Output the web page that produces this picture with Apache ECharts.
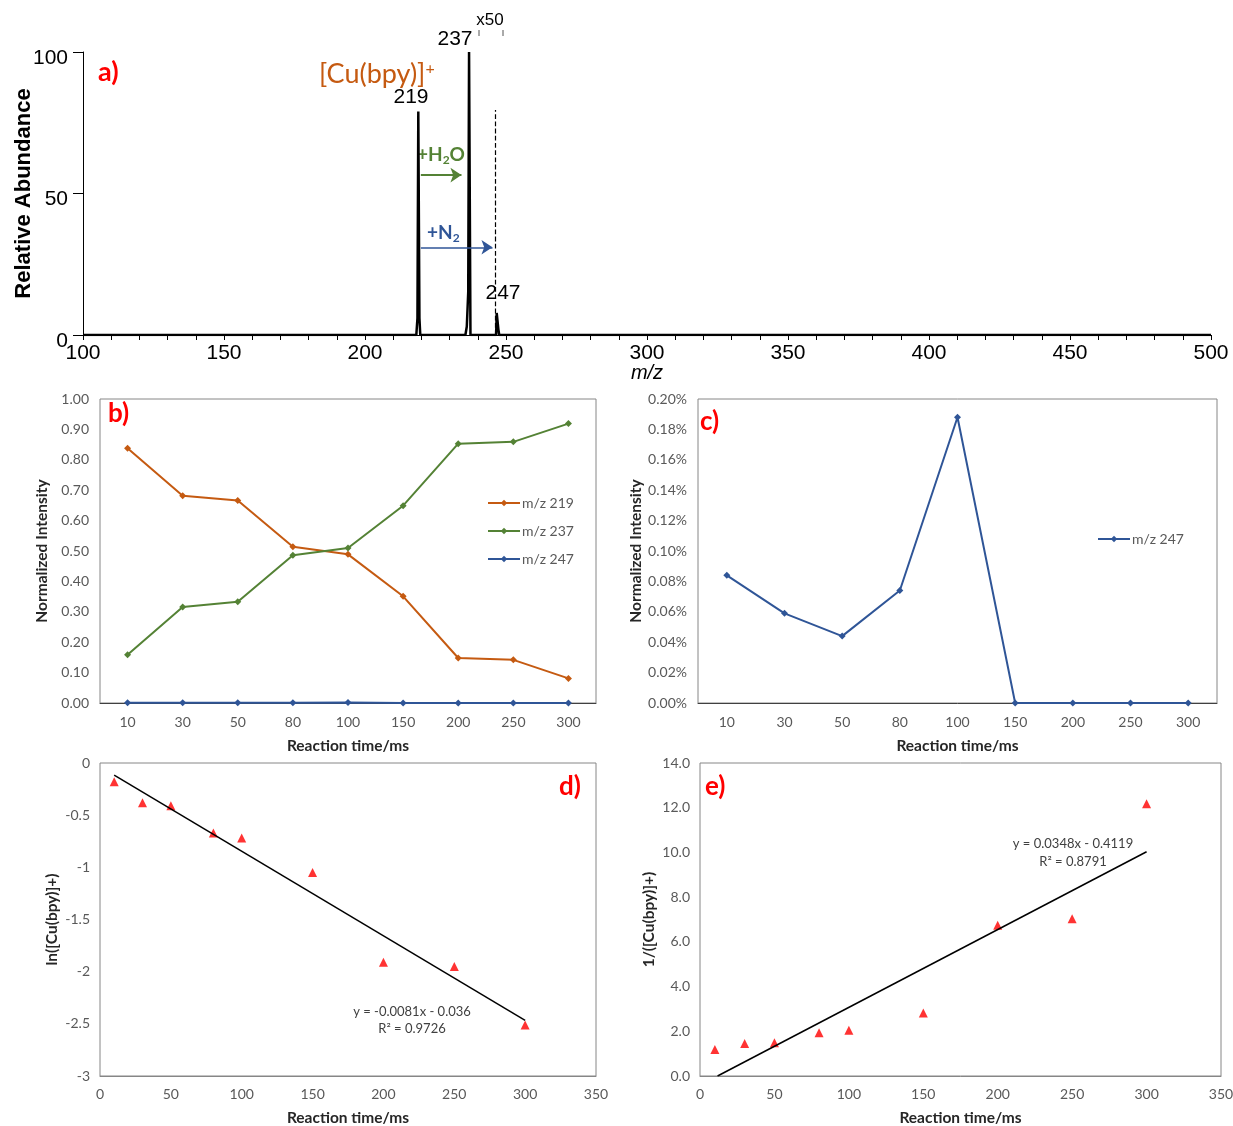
<!DOCTYPE html>
<html>
<head>
<meta charset="utf-8">
<title>[Cu(bpy)]+ reaction with H2O / N2</title>
<script src="https://cdn.jsdelivr.net/npm/echarts@6/dist/echarts.min.js"></script>
<style>
  html, body { margin: 0; padding: 0; background: #fff; }
  #chart { width: 1233px; height: 1126px; }
</style>
</head>
<body>
<div id="chart"></div>
<script>
// panel a - mass spectrum, [m/z, relative abundance]
var spectrum = [
  [100, 0], [218.2, 0], [218.6, 6], [218.9, 79], [219.3, 6], [219.6, 0],
  [235.6, 0], [236.1, 3], [236.6, 15], [236.9, 100], [237.4, 0],
  [246.5, 0], [246.7, 7.8], [247.3, 2], [247.6, 0], [500, 0]
];

// panels b/c - normalized intensities vs reaction time
var times = ['10', '30', '50', '80', '100', '150', '200', '250', '300'];
var timeValues = [10, 30, 50, 80, 100, 150, 200, 250, 300];
var mz219 = [0.838, 0.682, 0.666, 0.514, 0.489, 0.351, 0.148, 0.142, 0.081];
var mz237 = [0.159, 0.316, 0.333, 0.486, 0.510, 0.649, 0.853, 0.859, 0.919];
var mz247Pct = [0.084, 0.059, 0.044, 0.074, 0.188, 0, 0, 0, 0];

// panels d/e - kinetics plots
var lnCu = [-0.18, -0.38, -0.41, -0.67, -0.72, -1.05, -1.91, -1.95, -2.51];
var invCu = [1.18, 1.45, 1.49, 1.94, 2.05, 2.82, 6.74, 7.03, 12.18];
var trendD = [[10, -0.117], [300, -2.466]];
var trendE = [[11.8, 0], [300, 10.03]];

var ORANGE = '#C55A11', GREEN = '#548235', BLUE = '#2F5597', RED = '#FF0000';
var ARIAL = '"Liberation Sans", Arial, sans-serif';
var CAL = 'Lato, "Open Sans", sans-serif';
var FRAME = '#868686';

function pairs(xs, ys) {
  return xs.map(function (x, i) { return [x, ys[i]]; });
}

function smallLabel(fmt, margin) {
  return { color: '#595959', fontSize: 14, fontFamily: CAL, margin: margin, formatter: fmt };
}
function axisName(gap) {
  return { nameLocation: 'middle', nameGap: gap, nameMoveOverlap: false,
    nameTextStyle: { fontSize: 15.5, fontWeight: 'bold', fontFamily: CAL, color: '#262626' } };
}

var chart = echarts.init(document.getElementById('chart'), null, { renderer: 'canvas' });

var xAxes = [
  // a
  {
    gridIndex: 0, type: 'value', min: 100, max: 500, interval: 50,
    name: 'm/z', nameLocation: 'middle', nameGap: 28, nameMoveOverlap: false,
    nameTextStyle: { fontSize: 20, fontStyle: 'italic', fontFamily: ARIAL, color: '#000' },
    axisLine: { lineStyle: { color: '#000', width: 1 } },
    axisTick: { show: true, length: 5, lineStyle: { color: '#000' } },
    minorTick: { show: true, splitNumber: 5, length: 5, lineStyle: { color: '#000' } },
    axisLabel: { color: '#000', fontSize: 21, fontFamily: ARIAL, margin: 8 },
    splitLine: { show: false }
  },
  // b
  Object.assign({
    gridIndex: 1, type: 'category', data: times, name: 'Reaction time/ms',
    axisLine: { lineStyle: { color: '#404040' } },
    axisTick: { show: false },
    axisLabel: smallLabel(null, 12)
  }, axisName(35)),
  // c
  Object.assign({
    gridIndex: 2, type: 'category', data: times, name: 'Reaction time/ms',
    axisLine: { lineStyle: { color: '#404040' } },
    axisTick: { show: false },
    axisLabel: smallLabel(null, 12)
  }, axisName(35)),
  // d
  Object.assign({
    gridIndex: 3, type: 'value', min: 0, max: 350, interval: 50, name: 'Reaction time/ms',
    axisLine: { onZero: false, lineStyle: { color: FRAME } },
    axisTick: { show: false }, splitLine: { show: false },
    axisLabel: smallLabel(null, 11)
  }, axisName(34)),
  // e
  Object.assign({
    gridIndex: 4, type: 'value', min: 0, max: 350, interval: 50, name: 'Reaction time/ms',
    axisLine: { onZero: false, lineStyle: { color: FRAME } },
    axisTick: { show: false }, splitLine: { show: false },
    axisLabel: smallLabel(null, 11)
  }, axisName(34))
];

var yAxes = [
  // a
  {
    gridIndex: 0, type: 'value', min: 0, max: 100, interval: 50,
    name: 'Relative Abundance', nameLocation: 'middle', nameGap: 48, nameMoveOverlap: false,
    nameTextStyle: { fontSize: 22, fontWeight: 'bold', fontFamily: ARIAL, color: '#000' },
    axisLine: { show: true, lineStyle: { color: '#000' } },
    axisTick: { show: true, length: 10, lineStyle: { color: '#000' } },
    axisLabel: { color: '#000', fontSize: 21, fontFamily: ARIAL, margin: 15, verticalAlign: 'top', lineHeight: 12 },
    splitLine: { show: false }
  },
  // b
  Object.assign({
    gridIndex: 1, type: 'value', min: 0, max: 1, interval: 0.1, name: 'Normalized Intensity',
    axisLine: { show: false }, axisTick: { show: false }, splitLine: { show: false },
    axisLabel: smallLabel(function (v) { return v.toFixed(2); }, 11)
  }, axisName(50)),
  // c
  Object.assign({
    gridIndex: 2, type: 'value', min: 0, max: 0.2, interval: 0.02, name: 'Normalized Intensity',
    axisLine: { show: false }, axisTick: { show: false }, splitLine: { show: false },
    axisLabel: smallLabel(function (v) { return v.toFixed(2) + '%'; }, 11)
  }, axisName(54)),
  // d
  Object.assign({
    gridIndex: 3, type: 'value', min: -3, max: 0, interval: 0.5, name: 'ln([Cu(bpy)]+)',
    axisLine: { show: false }, axisTick: { show: false }, splitLine: { show: false },
    axisLabel: smallLabel(null, 10)
  }, axisName(40)),
  // e
  Object.assign({
    gridIndex: 4, type: 'value', min: 0, max: 14, interval: 2, name: '1/([Cu(bpy)]+)',
    axisLine: { show: false }, axisTick: { show: false }, splitLine: { show: false },
    axisLabel: smallLabel(function (v) { return v.toFixed(1); }, 10)
  }, axisName(43))
];

function lineSeries(name, color, data, xi) {
  return {
    name: name, type: 'line', xAxisIndex: xi, yAxisIndex: xi, data: data,
    symbol: 'diamond', symbolSize: 7, showSymbol: true,
    lineStyle: { color: color, width: 2 }, itemStyle: { color: color },
    animation: false
  };
}

var option = {
  backgroundColor: '#fff',
  animation: false,
  textStyle: { fontFamily: CAL },
  grid: [
    { left: 83, top: 52, width: 1128, height: 283, show: false, outerBoundsMode: 'none' },
    { left: 100, top: 399, width: 496, height: 304, show: true, borderColor: FRAME, borderWidth: 1, outerBoundsMode: 'none' },
    { left: 698, top: 399, width: 519, height: 304, show: true, borderColor: FRAME, borderWidth: 1, outerBoundsMode: 'none' },
    { left: 100, top: 763, width: 496, height: 313, show: true, borderColor: FRAME, borderWidth: 1, outerBoundsMode: 'none' },
    { left: 700, top: 763, width: 521, height: 313, show: true, borderColor: FRAME, borderWidth: 1, outerBoundsMode: 'none' }
  ],
  xAxis: xAxes,
  yAxis: yAxes,
  legend: [
    {
      left: 487, top: 496, padding: 0, orient: 'vertical', itemGap: 14, itemWidth: 32, itemHeight: 8,
      data: ['m/z 219', 'm/z 237', 'm/z 247'],
      textStyle: { color: '#595959', fontSize: 14, fontFamily: CAL, padding: [0, 0, 0, -3] }
    },
    {
      left: 1097, top: 532, padding: 0, orient: 'vertical', itemWidth: 32, itemHeight: 8,
      data: ['m/z 247 '],
      textStyle: { color: '#595959', fontSize: 14, fontFamily: CAL, padding: [0, 0, 0, -3] }
    }
  ],
  series: [
    {
      type: 'line', xAxisIndex: 0, yAxisIndex: 0, data: spectrum,
      showSymbol: false, symbol: 'none',
      lineStyle: { color: '#000', width: 2.5 },
      markLine: {
        silent: true, animation: false, symbol: ['none', 'arrow'], symbolSize: 11,
        label: { show: false },
        data: [
          [{ coord: [246.3, 0], symbol: 'none', lineStyle: { color: '#000', type: 'dashed', width: 1.2 } },
           { coord: [246.3, 79.5], symbol: 'none' }],
          [{ coord: [219.8, 56.5], lineStyle: { color: GREEN, type: 'solid', width: 2 } },
           { coord: [234.2, 56.5] }],
          [{ coord: [219.8, 31], lineStyle: { color: BLUE, type: 'solid', width: 1.5 } },
           { coord: [245.2, 31] }]
        ]
      }
    },
    lineSeries('m/z 219', ORANGE, mz219, 1),
    lineSeries('m/z 237', GREEN, mz237, 1),
    lineSeries('m/z 247', BLUE, mz247Pct.map(function (v) { return v / 100; }), 1),
    lineSeries('m/z 247 ', BLUE, mz247Pct, 2),
    {
      type: 'line', xAxisIndex: 3, yAxisIndex: 3, data: trendD, symbol: 'none',
      lineStyle: { color: '#000', width: 1.5 }
    },
    {
      type: 'scatter', xAxisIndex: 3, yAxisIndex: 3, data: pairs(timeValues, lnCu),
      symbol: 'triangle', symbolSize: 9, itemStyle: { color: RED }
    },
    {
      type: 'line', xAxisIndex: 4, yAxisIndex: 4, data: trendE, symbol: 'none',
      lineStyle: { color: '#000', width: 1.5 }
    },
    {
      type: 'scatter', xAxisIndex: 4, yAxisIndex: 4, data: pairs(timeValues, invCu),
      symbol: 'triangle', symbolSize: 9, itemStyle: { color: RED }
    }
  ],
  graphic: [
    // panel a annotations
    { type: 'text', x: 98, y: 72, style: { text: 'a)', fill: RED, font: 'bold 27px ' + CAL, verticalAlign: 'middle' } },
    { type: 'text', x: 490, y: 20, style: { text: 'x50', fill: '#000', font: '17px ' + ARIAL, align: 'center', verticalAlign: 'middle' } },
    { type: 'line', shape: { x1: 479, y1: 30, x2: 479, y2: 36 }, style: { stroke: '#555', lineWidth: 1 } },
    { type: 'line', shape: { x1: 503, y1: 30, x2: 503, y2: 36 }, style: { stroke: '#555', lineWidth: 1 } },
    { type: 'text', x: 455, y: 39, style: { text: '237', fill: '#000', font: '21px ' + ARIAL, align: 'center', verticalAlign: 'middle' } },
    { type: 'text', x: 411, y: 97, style: { text: '219', fill: '#000', font: '21px ' + ARIAL, align: 'center', verticalAlign: 'middle' } },
    { type: 'text', x: 503, y: 293, style: { text: '247', fill: '#000', font: '21px ' + ARIAL, align: 'center', verticalAlign: 'middle' } },
    {
      type: 'text', x: 319, y: 61,
      style: {
        text: '{a|[Cu(bpy)]}{p|+}', verticalAlign: 'top',
        rich: {
          a: { fontSize: 27, fontFamily: CAL, fill: ORANGE, lineHeight: 27, verticalAlign: 'middle' },
          p: { fontSize: 16, fontFamily: CAL, fill: ORANGE, lineHeight: 16, verticalAlign: 'top' }
        }
      }
    },
    {
      type: 'text', x: 417, y: 145,
      style: {
        text: '{a|+H}{s|2}{a|O}', verticalAlign: 'top',
        rich: {
          a: { fontSize: 19, fontWeight: 'bold', fontFamily: CAL, fill: GREEN, lineHeight: 20, verticalAlign: 'top' },
          s: { fontSize: 12, fontWeight: 'bold', fontFamily: CAL, fill: GREEN, lineHeight: 30, verticalAlign: 'middle' }
        }
      }
    },
    {
      type: 'text', x: 427, y: 223,
      style: {
        text: '{a|+N}{s|2}', verticalAlign: 'top',
        rich: {
          a: { fontSize: 19, fontWeight: 'bold', fontFamily: CAL, fill: BLUE, lineHeight: 20, verticalAlign: 'top' },
          s: { fontSize: 12, fontWeight: 'bold', fontFamily: CAL, fill: BLUE, lineHeight: 30, verticalAlign: 'middle' }
        }
      }
    },
    // panel letters
    { type: 'text', x: 108, y: 414, style: { text: 'b)', fill: RED, font: 'bold 26px ' + CAL, verticalAlign: 'middle' } },
    { type: 'text', x: 700, y: 422, style: { text: 'c)', fill: RED, font: 'bold 26px ' + CAL, verticalAlign: 'middle' } },
    { type: 'text', x: 559, y: 787, style: { text: 'd)', fill: RED, font: 'bold 26px ' + CAL, verticalAlign: 'middle' } },
    { type: 'text', x: 705, y: 787, style: { text: 'e)', fill: RED, font: 'bold 26px ' + CAL, verticalAlign: 'middle' } },
    // trendline equations
    { type: 'text', x: 412, y: 1012, style: { text: 'y = -0.0081x - 0.036', fill: '#404040', font: '13px ' + CAL, align: 'center', verticalAlign: 'middle' } },
    { type: 'text', x: 412, y: 1029, style: { text: 'R² = 0.9726', fill: '#404040', font: '13px ' + CAL, align: 'center', verticalAlign: 'middle' } },
    { type: 'text', x: 1073, y: 844, style: { text: 'y = 0.0348x - 0.4119', fill: '#404040', font: '13px ' + CAL, align: 'center', verticalAlign: 'middle' } },
    { type: 'text', x: 1073, y: 862, style: { text: 'R² = 0.8791', fill: '#404040', font: '13px ' + CAL, align: 'center', verticalAlign: 'middle' } }
  ]
};

chart.setOption(option);
</script>
</body>
</html>
